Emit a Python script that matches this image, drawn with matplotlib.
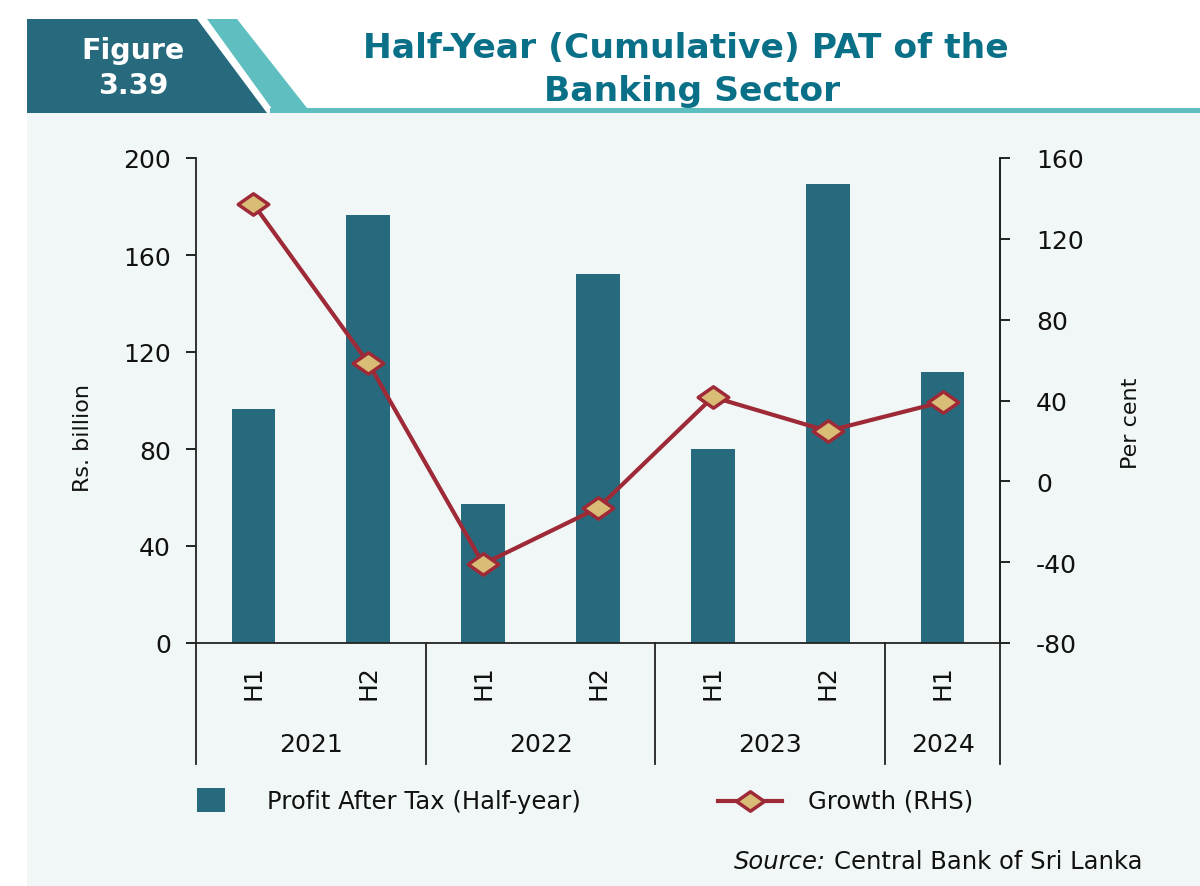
import matplotlib
matplotlib.use("Agg")
import matplotlib.pyplot as plt
import numpy as np
from matplotlib.patches import Polygon, Rectangle
from matplotlib.lines import Line2D
from matplotlib.path import Path
import matplotlib.transforms as mtransforms

# ---- data ----
halves = ["H1", "H2", "H1", "H2", "H1", "H2", "H1"]
years = ["2021", "2022", "2023", "2024"]
year_spans = [(0, 1), (2, 3), (4, 5), (6, 6)]
pat = [96.5, 176.5, 57.3, 152.2, 80.0, 189.3, 111.8]
growth = [137.2, 58.6, -40.9, -13.2, 41.7, 24.9, 39.3]

left_ticks = [0, 40, 80, 120, 160, 200]
right_ticks = [-80, -40, 0, 40, 80, 120, 160]

BAR = "#276A7E"
LINE = "#9E2A37"
MFACE = "#D9BC76"
BG = "#F1F7F6"
DARK = "#276A7E"
LIGHT = "#5FBFC0"
TITLE = "#0A7088"
FONT = "DejaVu Sans"
TXT = "#111111"

W, H = 1200, 887
fig = plt.figure(figsize=(12, 8.87), dpi=100)
fig.patch.set_facecolor("white")

def fx(x): return x / W
def fy(y): return 1 - y / H

# background panel
fig.patches.append(Rectangle((fx(27), 0), 1 - fx(27), fy(113), transform=fig.transFigure,
                             facecolor=BG, edgecolor="none", zorder=-5))
# header shapes
fig.patches.append(Polygon([(fx(27), fy(20)), (fx(197), fy(20)), (fx(267), fy(114)), (fx(27), fy(114))],
                           closed=True, transform=fig.transFigure, facecolor=DARK, edgecolor="none", zorder=-4))
fig.patches.append(Polygon([(fx(207), fy(20)), (fx(237), fy(20)), (fx(307), fy(109)), (fx(277), fy(114)), (fx(275), fy(114))],
                           closed=True, transform=fig.transFigure, facecolor=LIGHT, edgecolor="none", zorder=-4))
fig.patches.append(Rectangle((fx(270), fy(114)), 1 - fx(270), fy(109) - fy(114), transform=fig.transFigure,
                             facecolor=LIGHT, edgecolor="none", zorder=-4))

fig.text(fx(133), fy(51), "Figure", color="white", fontsize=20.5, fontweight="bold",
         family=FONT, ha="center", va="center")
fig.text(fx(133), fy(86), "3.39", color="white", fontsize=20.5, fontweight="bold",
         family=FONT, ha="center", va="center")
fig.text(fx(686), fy(49), "Half-Year (Cumulative) PAT of the", color=TITLE, fontsize=24.8,
         fontweight="bold", family=FONT, ha="center", va="center")
fig.text(fx(692), fy(91), "Banking Sector", color=TITLE, fontsize=24.8,
         fontweight="bold", family=FONT, ha="center", va="center")

# axes
ax = fig.add_axes([fx(196), fy(644), fx(1000) - fx(196), fy(159) - fy(644)])
ax.set_facecolor("none")
x = np.arange(len(pat))
ax.bar(x, pat, width=0.38, color=BAR, zorder=2)
ax.set_xlim(-0.5, len(pat) - 0.5)
ax.set_ylim(0, 200)
ax.set_yticks(left_ticks)
ax.set_yticklabels([str(t) for t in left_ticks])
ax.set_xticks([])
ax.spines["top"].set_visible(False)
for s in ["left", "right", "bottom"]:
    ax.spines[s].set_color("#222222")
    ax.spines[s].set_linewidth(1.3)
ax.tick_params(axis="y", direction="out", length=7, width=1.3, labelsize=18, pad=11, colors=TXT)
for lab in ax.get_yticklabels():
    lab.set_family(FONT)
ax.set_ylabel("Rs. billion", fontsize=16, family=FONT, color=TXT)
ax.yaxis.set_label_coords(-0.128, 0.425)

ax2 = ax.twinx()
ax2.set_ylim(-80, 160)
ax2.set_yticks(right_ticks)
ax2.set_yticklabels([str(t) for t in right_ticks])
for s in ["top", "left", "bottom"]:
    ax2.spines[s].set_visible(False)
ax2.spines["right"].set_color("#222222")
ax2.spines["right"].set_linewidth(1.3)
ax2.tick_params(axis="y", direction="out", length=7, width=1.3, labelsize=18, pad=19, colors=TXT)
for lab in ax2.get_yticklabels():
    lab.set_family(FONT)
ax2.set_ylabel("Per cent", fontsize=16, family=FONT, color=TXT)
ax2.yaxis.set_label_coords(1.150, 0.456)

diamond = Path([(-1, 0), (0, 0.7), (1, 0), (0, -0.7), (-1, 0)],
               [Path.MOVETO, Path.LINETO, Path.LINETO, Path.LINETO, Path.CLOSEPOLY])
ax2.plot(x, growth, color=LINE, lw=3, marker=diamond, markersize=22,
         markerfacecolor=MFACE, markeredgecolor=LINE, markeredgewidth=2.5, zorder=3)

# category axis
trans = mtransforms.blended_transform_factory(ax.transData, ax.transAxes)
for b in [-0.5, 1.5, 3.5, 5.5, 6.5]:
    ax.add_line(Line2D([b, b], [0, -0.25], transform=trans, color="#222222", lw=1.3, clip_on=False))
for i, h in enumerate(halves):
    ax.text(i, -0.08, h, transform=trans, rotation=90, ha="center", va="center",
            fontsize=18, family=FONT, color=TXT)
for yr, (a, b) in zip(years, year_spans):
    ax.text((a + b) / 2, -0.208, yr, transform=trans, ha="center", va="center",
            fontsize=18, family=FONT, color=TXT)

# legend (manual)
fig.patches.append(Rectangle((fx(197), fy(813)), fx(28), fy(789) - fy(813), transform=fig.transFigure,
                             facecolor=BAR, edgecolor="none", zorder=3))
fig.text(fx(267), fy(802), "Profit After Tax (Half-year)", fontsize=17.5, family=FONT,
         ha="left", va="center", color=TXT, fontweight="medium")
fig.lines.append(Line2D([fx(718), fx(782)], [fy(802), fy(802)], transform=fig.transFigure,
                        color=LINE, lw=3, zorder=3))
fig.lines.append(Line2D([fx(750)], [fy(802)], transform=fig.transFigure, marker=diamond,
                        markersize=20, markerfacecolor=MFACE, markeredgecolor=LINE,
                        markeredgewidth=2.5, lw=0, zorder=4))
fig.text(fx(808), fy(802), "Growth (RHS)", fontsize=17.5, family=FONT,
         ha="left", va="center", color=TXT, fontweight="medium")

src = fig.text(fx(1142), fy(862), "Central Bank of Sri Lanka", fontsize=17.5, family=FONT,
               ha="right", va="center", color=TXT)
fig.canvas.draw()
bb = src.get_window_extent()
fig.text(bb.x0 - 8, bb.y0 + bb.height / 2, "Source:", fontsize=17.5, family=FONT, style="italic",
         ha="right", va="center", color=TXT, transform=None)

fig.savefig("out.png", dpi=100, facecolor=fig.get_facecolor())
